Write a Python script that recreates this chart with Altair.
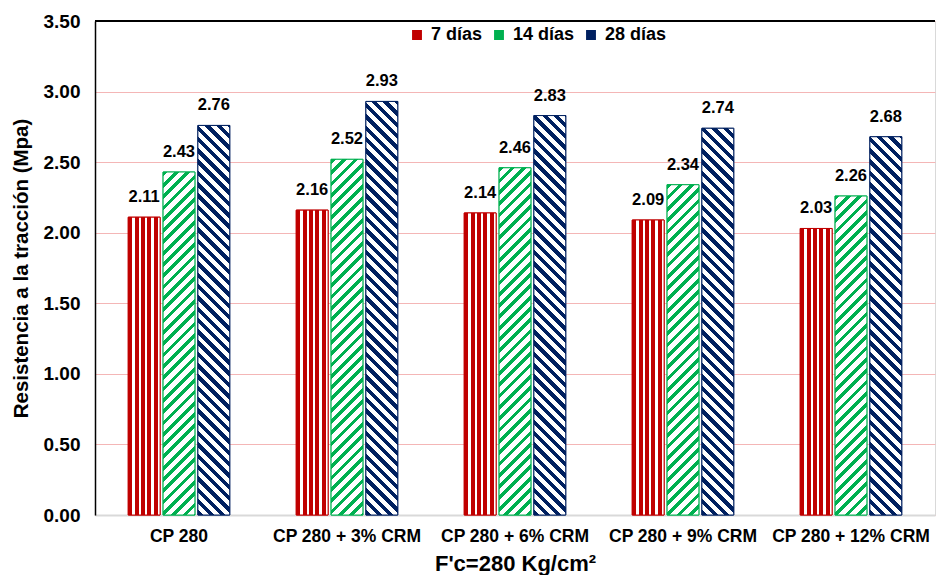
import math
import altair as alt
import pandas as pd

grupos = ["CP 280", "CP 280 + 3% CRM", "CP 280 + 6% CRM", "CP 280 + 9% CRM", "CP 280 + 12% CRM"]
series = ["7 días", "14 días", "28 días"]
v7 = [2.11, 2.16, 2.14, 2.09, 2.03]
v14 = [2.43, 2.52, 2.46, 2.34, 2.26]
v28 = [2.76, 2.93, 2.83, 2.74, 2.68]
colores = ["#C00000", "#00B050", "#002060"]

rows = []
for s, vals in zip(series, [v7, v14, v28]):
    for g, v in zip(grupos, vals):
        rows.append({"grupo": g, "serie": s, "valor": v})
df = pd.DataFrame(rows)

FONT = "Liberation Sans"
W, H, YMAX = 840, 494, 3.5
P_IN = 0.396
Q_IN = 3 / 35
step = W / 5
bw_group = step * (1 - P_IN)
bar_w = bw_group / (3 - Q_IN) * (1 - Q_IN)

X = alt.X("grupo:N", sort=grupos,
          scale=alt.Scale(domain=grupos, paddingInner=P_IN, paddingOuter=P_IN / 2),
          axis=alt.Axis(title="F'c=280 Kg/cm²", labelAngle=0, ticks=False,
                        domainColor="#d9d9d9", domainWidth=2, labelPadding=12,
                        labelFont=FONT, labelFontSize=17.5, labelFontWeight="bold",
                        labelColor="#000000", titleFont=FONT, titleFontSize=22,
                        titleFontWeight="bold", titleColor="#000000", titlePadding=9))
XO = alt.XOffset("serie:N", sort=series,
                 scale=alt.Scale(domain=series, paddingInner=Q_IN, paddingOuter=0))
Y = alt.Y("valor:Q",
          scale=alt.Scale(domain=[0, YMAX], nice=False),
          axis=alt.Axis(title="Resistencia a la tracción (Mpa)", values=[i * 0.5 for i in range(8)],
                        format=".2f", ticks=False, domainColor="#000000", domainWidth=1.5,
                        gridColor="#F4B6B6", gridWidth=1, labelPadding=15,
                        labelFont=FONT, labelFontSize=19, labelFontWeight="bold",
                        labelColor="#000000", titleFont=FONT, titleFontSize=20.5,
                        titleFontWeight="bold", titleColor="#000000", titlePadding=12))


def stops_for(color, n, frac):
    out = []
    for j in range(n):
        a = j / n
        b = (j + frac) / n
        c = (j + 1) / n
        out += [alt.GradientStop(offset=a, color=color), alt.GradientStop(offset=b, color=color),
                alt.GradientStop(offset=b, color="#ffffff"), alt.GradientStop(offset=c, color="#ffffff")]
    return out


# vertical stripes for 7 días
vert = alt.Gradient(gradient="linear", x1=0, y1=0, x2=1, y2=0,
                    stops=stops_for(colores[0], 5, 0.62))

PERIOD = 8.0
M = 44
L = PERIOD * M
diag_stops = {
    "14 días": stops_for(colores[1], M, 0.42),
    "28 días": stops_for(colores[2], M, 0.48),
}


def diag_gradient(serie, v):
    h = v / YMAX * H
    w = bar_w
    k = L * math.sqrt(2) / (w * w + h * h)
    if serie == "14 días":
        return alt.Gradient(gradient="linear", x1=0, y1=0, x2=w * k, y2=h * k,
                            stops=diag_stops[serie])
    return alt.Gradient(gradient="linear", x1=0, y1=1, x2=w * k, y2=1 - h * k,
                        stops=diag_stops[serie])


cscale = alt.Scale(domain=series, range=colores)
base = alt.Chart(df).mark_bar(strokeWidth=1).encode(
    x=X, xOffset=XO, y=Y,
    color=alt.Color("serie:N", scale=cscale, sort=series,
                    legend=alt.Legend(orient="none", legendX=313, legendY=5, direction="horizontal",
                                      title=None, labelFont=FONT, labelFontSize=18,
                                      labelFontWeight="bold", labelColor="#000000",
                                      symbolType="square", symbolSize=70, columnPadding=7,
                                      labelOffset=5)),
    stroke=alt.Stroke("serie:N", scale=cscale, legend=None),
)

layers = [base]
layers.append(
    alt.Chart(df).transform_filter(alt.datum.serie == series[0]).mark_bar(
        fill=vert, stroke=colores[0], strokeWidth=1).encode(x=X, xOffset=XO, y=Y)
)
for s, vals, col in [(series[1], v14, colores[1]), (series[2], v28, colores[2])]:
    for g, v in zip(grupos, vals):
        layers.append(
            alt.Chart(df).transform_filter((alt.datum.serie == s) & (alt.datum.grupo == g)).mark_bar(
                fill=diag_gradient(s, v), stroke=col, strokeWidth=1).encode(x=X, xOffset=XO, y=Y)
        )

labels = alt.Chart(df).mark_text(font=FONT, fontSize=16.5, fontWeight="bold", color="#000000",
                                 baseline="bottom", dy=-12).encode(
    x=X, xOffset=XO, y=Y, text=alt.Text("valor:Q", format=".2f"))
layers.append(labels)

top = alt.Chart(df).mark_rule(color="#000000", strokeWidth=2).encode(y=alt.datum(YMAX))
layers.append(top)

chart = alt.layer(*layers).properties(
    width=W, height=H,
    padding={"left": 3, "top": 4, "right": 0, "bottom": 0},
).configure_view(stroke="#d9d9d9", strokeWidth=1)

chart.save("out.html", embed_options={"renderer": "svg", "actions": False})
